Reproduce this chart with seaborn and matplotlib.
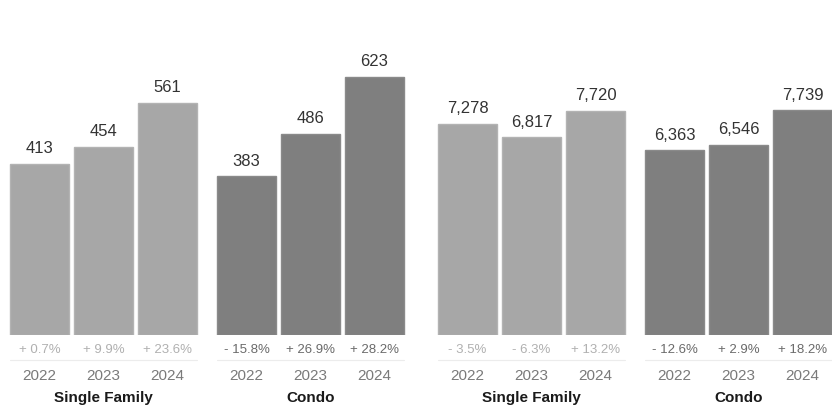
import matplotlib
matplotlib.use("Agg")
import matplotlib.pyplot as plt
import seaborn as sns
import pandas as pd

# Categories
segments = ["Single Family", "Condo"]
years = ["2022", "2023", "2024"]

# Left panel values
left_single_family = [413, 454, 561]
left_condo = [383, 486, 623]
left_sf_change = [0.7, 9.9, 23.6]
left_condo_change = [-15.8, 26.9, 28.2]

# Right panel values
right_single_family = [7278, 6817, 7720]
right_condo = [6363, 6546, 7739]
right_sf_change = [-3.5, -6.3, 13.2]
right_condo_change = [-12.6, 2.9, 18.2]

SEG_COLORS = {"Single Family": "#a7a7a7", "Condo": "#7f7f7f"}
SEG_EDGES = {"Single Family": "#b3b3b3", "Condo": "#8a8a8a"}
PCT_COLORS = {"Single Family": "#b0b0b0", "Condo": "#6a6a6a"}

sns.set_theme(style="white")
plt.rcParams["font.family"] = ["Liberation Sans", "DejaVu Sans"]

W, H = 832, 409
fig = plt.figure(figsize=(W / 100, H / 100), dpi=100)
fig.patch.set_facecolor("white")


def px_axes(x0, x1, y_top, y_base):
    return fig.add_axes([x0 / W, (H - y_base) / H, (x1 - x0) / W, (y_base - y_top) / H])


def fmt_change(v):
    sign = "+" if v >= 0 else "-"
    return f"{sign} {abs(v):.1f}%"


def draw_panel(ax, sf_vals, condo_vals, sf_chg, condo_chg, xlim, ytop):
    df = pd.DataFrame({
        "segment": [segments[0]] * 3 + [segments[1]] * 3,
        "year": years * 2,
        "value": list(sf_vals) + list(condo_vals),
    })
    sns.barplot(data=df, x="segment", y="value", hue="year",
                order=segments, hue_order=years, palette=["#a7a7a7"] * 3,
                width=0.928, gap=0.078, legend=False, ax=ax, linewidth=1)
    ax.set_xlim(*xlim)
    ax.set_ylim(0, ytop)
    ax.axis("off")

    values = {segments[0]: sf_vals, segments[1]: condo_vals}
    changes = {segments[0]: sf_chg, segments[1]: condo_chg}
    trans = ax.get_xaxis_transform()
    span = ax.bbox.height  # pixels from baseline to top of axes

    def yfrac(px_below):
        return -px_below / span

    edges = {s: [] for s in segments}
    for yi, container in enumerate(ax.containers):
        for si, bar in enumerate(container):
            seg = segments[si]
            bar.set_facecolor(SEG_COLORS[seg])
            bar.set_edgecolor(SEG_EDGES[seg])
            cx = bar.get_x() + bar.get_width() / 2
            edges[seg] += [bar.get_x(), bar.get_x() + bar.get_width()]
            val = values[seg][yi]
            ax.annotate(f"{val:,}", xy=(cx, val), xytext=(0, 7.5),
                        textcoords="offset points", ha="center", va="baseline",
                        fontsize=12, color="#333333")
            ax.text(cx, yfrac(15), fmt_change(changes[seg][yi]), transform=trans,
                    ha="center", va="center", fontsize=9.5,
                    color=PCT_COLORS[seg], clip_on=False)
            ax.text(cx, yfrac(40.5), years[yi], transform=trans,
                    ha="center", va="center", fontsize=11,
                    color="#7a7a7a", clip_on=False)

    for si, seg in enumerate(segments):
        lo, hi = min(edges[seg]), max(edges[seg])
        ax.plot([lo, hi], [yfrac(25), yfrac(25)], transform=trans,
                color="#ececec", lw=0.8, clip_on=False)
        ax.text(si, yfrac(63), seg, transform=trans, ha="center", va="center",
                fontsize=11, fontweight="bold", color="#1a1a1a", clip_on=False)


ax_left = px_axes(0, 416, 0, 335)
draw_panel(ax_left, left_single_family, left_condo, left_sf_change, left_condo_change,
           (-0.5, 1.5097), 808.6)

ax_right = px_axes(428, 832, 0, 335)
draw_panel(ax_right, right_single_family, right_condo, right_sf_change, right_condo_change,
           (-0.5, 1.4517), 11532)

fig.savefig("out.png", dpi=100, facecolor="white")
